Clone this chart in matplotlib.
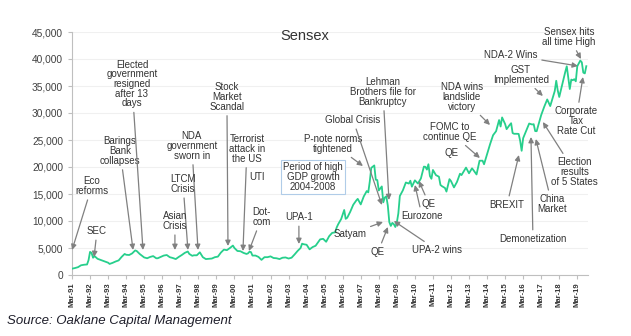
import numpy as np
import matplotlib
matplotlib.use("Agg")
import matplotlib.pyplot as plt
from matplotlib.ticker import FuncFormatter

plt.rcParams['font.family'] = ['Liberation Sans', 'DejaVu Sans']

# month-end Sensex levels (approx.)
months = [
    "1991-03", "1991-05", "1991-07", "1991-09", "1991-11",
    "1992-01", "1992-02", "1992-03", "1992-04", "1992-05", "1992-06", "1992-08", "1992-10", "1992-12",
    "1993-02", "1993-03", "1993-04", "1993-06", "1993-08", "1993-10", "1993-12",
    "1994-02", "1994-03", "1994-05", "1994-07", "1994-09", "1994-10", "1994-12",
    "1995-02", "1995-03", "1995-05", "1995-07", "1995-09", "1995-11", "1995-12",
    "1996-02", "1996-04", "1996-06", "1996-08", "1996-10", "1996-12",
    "1997-02", "1997-04", "1997-06", "1997-08", "1997-09", "1997-11", "1997-12",
    "1998-02", "1998-04", "1998-06", "1998-08", "1998-10", "1998-12",
    "1999-02", "1999-04", "1999-06", "1999-08", "1999-10", "1999-12",
    "2000-02", "2000-03", "2000-05", "2000-07", "2000-09", "2000-11", "2000-12",
    "2001-01", "2001-02", "2001-03", "2001-05", "2001-07", "2001-09", "2001-11",
    "2002-01", "2002-03", "2002-05", "2002-07", "2002-09", "2002-11",
    "2003-01", "2003-03", "2003-05", "2003-07", "2003-09", "2003-11", "2003-12",
    "2004-01", "2004-03", "2004-05", "2004-07", "2004-09", "2004-11", "2004-12",
    "2005-02", "2005-04", "2005-06", "2005-08", "2005-10", "2005-11", "2005-12",
    "2006-02", "2006-04", "2006-05", "2006-06", "2006-08", "2006-10", "2006-12",
    "2007-01", "2007-03", "2007-05", "2007-07", "2007-08", "2007-09", "2007-10", "2007-12",
    "2008-01", "2008-02", "2008-03", "2008-05", "2008-06", "2008-07", "2008-08", "2008-09",
    "2008-10", "2008-11", "2008-12",
    "2009-01", "2009-02", "2009-03", "2009-04", "2009-05", "2009-07", "2009-09", "2009-11", "2009-12",
    "2010-01", "2010-03", "2010-05", "2010-07", "2010-09", "2010-10", "2010-11", "2010-12",
    "2011-01", "2011-02", "2011-03", "2011-05", "2011-07", "2011-08", "2011-09", "2011-11", "2011-12",
    "2012-02", "2012-03", "2012-05", "2012-07", "2012-09", "2012-10", "2012-12",
    "2013-01", "2013-03", "2013-05", "2013-06", "2013-08", "2013-10", "2013-12",
    "2014-01", "2014-03", "2014-05", "2014-07", "2014-09", "2014-11", "2014-12",
    "2015-01", "2015-03", "2015-04", "2015-06", "2015-07", "2015-08", "2015-09", "2015-11", "2015-12",
    "2016-01", "2016-02", "2016-03", "2016-05", "2016-07", "2016-09", "2016-10", "2016-11", "2016-12",
    "2017-01", "2017-03", "2017-05", "2017-07", "2017-09", "2017-11", "2017-12",
    "2018-01", "2018-02", "2018-03", "2018-05", "2018-07", "2018-08", "2018-10", "2018-11", "2018-12",
    "2019-01", "2019-02", "2019-03", "2019-05", "2019-06", "2019-07", "2019-08", "2019-09",
]
sensex = [
    1168, 1290, 1450, 1800, 1900,
    1950, 2750, 4285, 4100, 3200, 3500, 3000, 2800, 2600,
    2400, 2280, 2050, 2250, 2500, 2700, 3350,
    3900, 3750, 3700, 4000, 4550, 4450, 3900,
    3450, 3250, 3100, 3350, 3500, 3100, 3100,
    3350, 3600, 3700, 3300, 3150, 2950,
    3350, 3700, 4100, 4350, 3900, 3550, 3650,
    3650, 4200, 3300, 2950, 3000, 3050,
    3300, 3400, 4150, 4700, 4600, 5000,
    5450, 5000, 4450, 4400, 4100, 3900, 4000,
    4300, 4250, 3600, 3600, 3350, 2800, 3300,
    3300, 3450, 3150, 3100, 2950, 3200,
    3250, 3050, 3200, 3800, 4450, 5000, 5800,
    5700, 5600, 4750, 5170, 5420, 6230, 6600,
    6700, 6150, 7190, 7800, 7900, 8800, 9400,
    10370, 12040, 10400, 10600, 11700, 13000, 13790,
    14100, 13070, 14540, 15550, 15300, 17290, 19840, 20290,
    17650, 17580, 15650, 16400, 13460, 14350, 14560, 12860,
    9790, 9090, 9650,
    9420, 8890, 9710, 11400, 14630, 15670, 17130, 16930, 17460,
    16360, 17530, 16940, 17870, 20070, 20030, 19520, 20510,
    18330, 17820, 19450, 18500, 18200, 16680, 16450, 16120, 15450,
    17750, 17400, 16220, 17240, 18760, 18500, 19430,
    19890, 18840, 19760, 19400, 18620, 21160, 21170,
    20510, 22390, 24220, 25890, 26630, 28690, 27500,
    29180, 27960, 27010, 27780, 28110, 26280, 26150, 26150, 26120,
    24870, 23000, 25340, 26670, 28050, 27870, 27930, 26650, 26630,
    27660, 29620, 31150, 32510, 31280, 33150, 34060,
    35970, 34180, 32970, 35320, 37610, 38650, 34440, 36190, 36070,
    36260, 35870, 38670, 39710, 39390, 37480, 37330, 38670,
]

tick_years = list(range(1991, 2020))
tick_labels = ["Mar-{:02d}".format(y % 100) for y in tick_years]

# (label, text x, text y, arrow x, arrow y) in (decimal year, index level)
events = [
    ("Eco\nreforms", 1992.27, 16480, 1991.17, 4630),
    ("SEC", 1992.55, 8150, 1992.39, 3330),
    ("Barings\nBank\ncollapses", 1993.83, 22960, 1994.55, 4630),
    ("Elected\ngovernment\nresigned\nafter 13\ndays", 1994.49, 35370, 1995.10, 4630),
    ("NDA\ngovernment\nsworn in", 1997.81, 23890, 1998.15, 4630),
    ("LTCM\nCrisis", 1997.32, 16850, 1997.59, 4630),
    ("Asian\nCrisis", 1996.87, 10000, 1996.87, 4630),
    ("Stock\nMarket\nScandal", 1999.75, 32970, 1999.81, 5370),
    ("Terrorist\nattack in\nthe US", 2000.86, 23340, 2000.64, 4440),
    ("UTI", 2001.42, 18150, None, None),
    ("Dot-\ncom", 2001.69, 10740, 2000.97, 4440),
    ("UPA-1", 2003.74, 10740, 2003.74, 5740),
    ("P-note norms\ntightened", 2005.63, 24260, 2007.29, 20190),
    ("Global Crisis", 2006.74, 28710, 2008.34, 12960),
    ("Lehman\nBrothers file for\nBankruptcy", 2008.40, 33890, 2008.73, 13890),
    ("Satyam", 2006.57, 7590, 2008.40, 9820),
    ("QE", 2008.12, 4260, 2008.67, 8890),
    ("UPA-2 wins", 2011.39, 4630, 2009.00, 10000),
    ("Eurozone", 2010.56, 10930, 2010.17, 16670),
    ("QE", 2010.95, 13150, 2010.39, 17410),
    ("QE", 2012.22, 22590, None, None),
    ("FOMC to\ncontinue QE", 2012.11, 26480, 2013.77, 21670),
    ("NDA wins\nlandslide\nvictory", 2012.77, 32970, 2014.33, 27780),
    ("GST\nImplemented", 2016.04, 37040, 2017.26, 33150),
    ("NDA-2 Wins", 2015.49, 40740, 2019.20, 38710),
    ("Sensex hits\nall time High", 2018.70, 44080, 2019.37, 40000),
    ("Corporate\nTax\nRate Cut", 2019.09, 28520, 2019.48, 36670),
    ("Election\nresults\nof 5 States", 2019.03, 19080, 2017.26, 28330),
    ("China\nMarket", 2017.76, 13150, 2016.87, 25190),
    ("Demonetization", 2016.71, 6670, 2016.60, 25560),
    ("BREXIT", 2015.27, 12960, 2015.93, 22220),
]

x = [int(m[:4]) + (int(m[5:]) - 1) / 12 for m in months]

fig = plt.figure(figsize=(6.31, 3.36), dpi=100)
ax = fig.add_axes([72 / 631, 1 - 275 / 336, 516 / 631, 243 / 336])

ax.plot(x, sensex, color="#27cf8c", lw=1.3, zorder=3)

ax.set_ylim(0, 45000)
ax.set_xlim(1991 + 2 / 12, 2019.76)
ax.set_yticks(np.arange(0, 45001, 5000))
ax.yaxis.set_major_formatter(FuncFormatter(lambda v, p: "{:,.0f}".format(v)))
ax.set_xticks([y + 2 / 12 for y in tick_years])
ax.set_xticklabels(tick_labels, rotation=90, fontsize=5.5, fontweight="bold", color="#333333")
ax.tick_params(axis="y", labelsize=7.3, labelcolor="#404040", length=3, color="#bfbfbf", width=0.8)
ax.tick_params(axis="x", length=3, color="#bfbfbf", width=0.8, pad=2)
ax.grid(axis="y", color="#f0f0f0", lw=0.8)
ax.set_axisbelow(True)
for side in ["top", "right"]:
    ax.spines[side].set_visible(False)
for side in ["left", "bottom"]:
    ax.spines[side].set_color("#bfbfbf")
    ax.spines[side].set_linewidth(0.8)

arrow = dict(arrowstyle="-|>,head_length=0.45,head_width=0.22", color="#808080",
             lw=0.9, shrinkA=1, shrinkB=0)
for label, tx, ty, axx, axy in events:
    if axx is None:
        ax.text(tx, ty, label, fontsize=7, ha="center", va="center",
                color="#333333", linespacing=0.95, zorder=5)
    else:
        ax.annotate(label, xy=(axx, axy), xytext=(tx, ty), fontsize=7,
                    ha="center", va="center", color="#333333", linespacing=0.95,
                    arrowprops=arrow, zorder=5)

ax.text(2004.52, 18150, "Period of high\nGDP growth\n2004-2008", fontsize=7, ha="center",
        va="center", color="#333333", linespacing=0.95, zorder=5,
        bbox=dict(boxstyle="square,pad=0.25", fc="white", ec="#b0cce8", lw=0.8))

fig.text(305 / 631, 1 - 36 / 336, "Sensex", fontsize=10.5, ha="center", va="center", color="#333333")
fig.text(7 / 631, 1 - 321 / 336, "Source: Oaklane Capital Management", fontsize=9.5,
         style="italic", ha="left", va="center", color="#1e1e2a")

fig.savefig("out.png", dpi=100)
